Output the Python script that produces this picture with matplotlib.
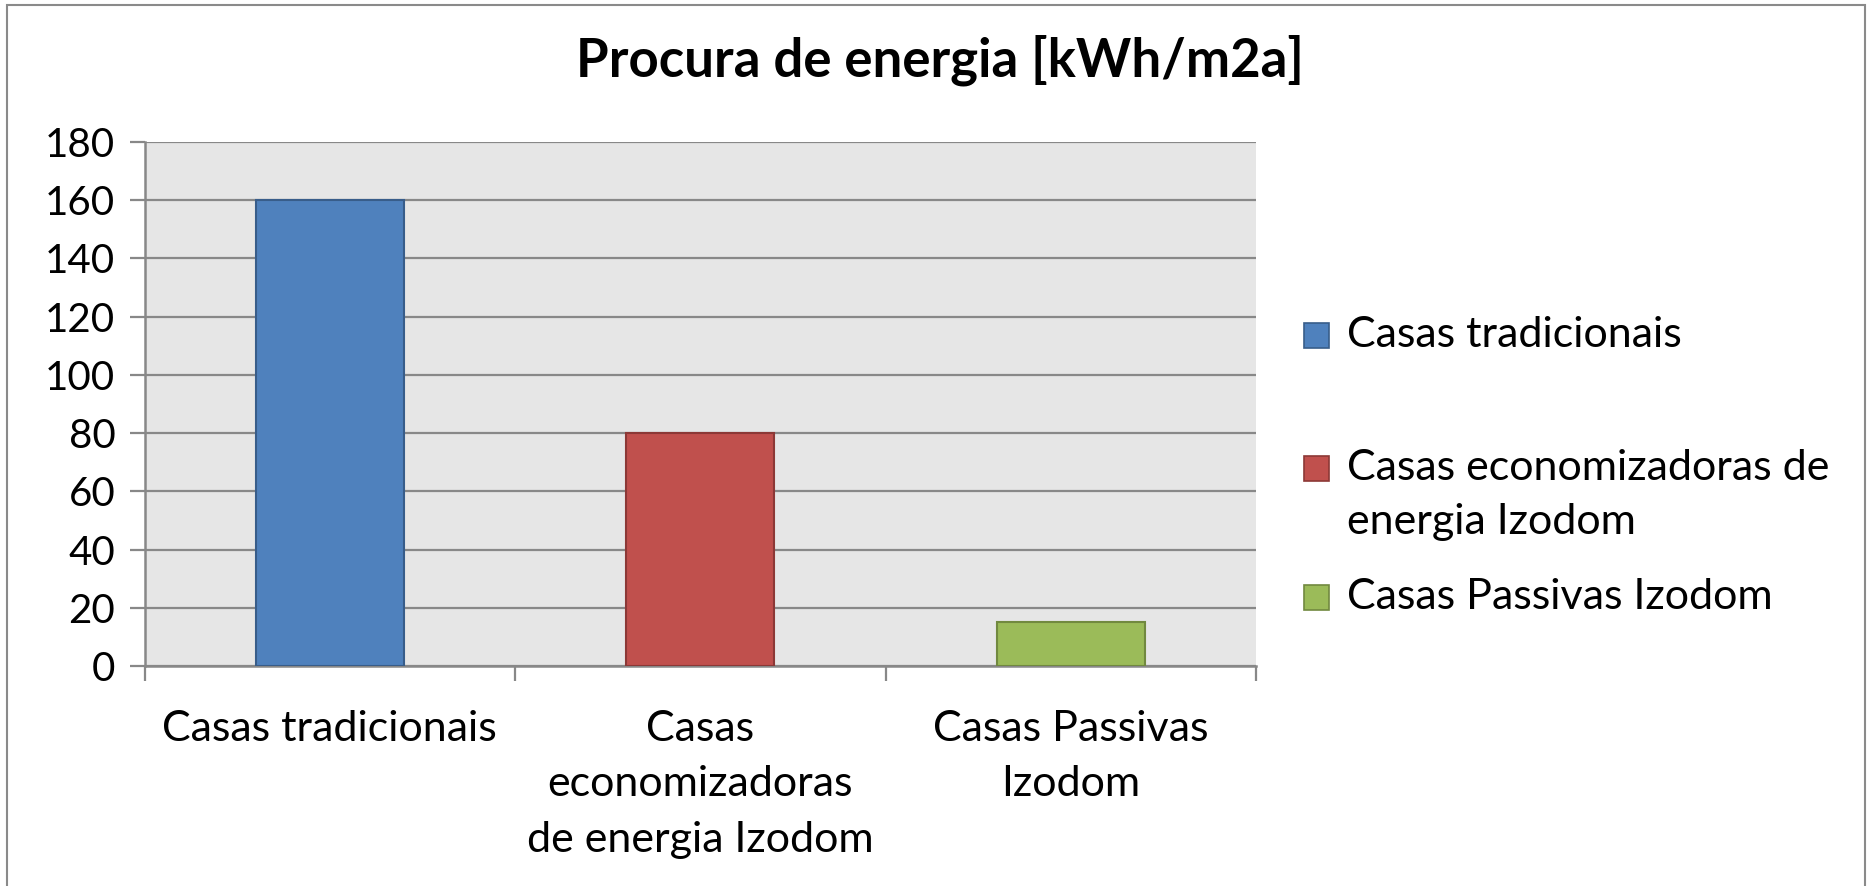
import matplotlib
matplotlib.use("Agg")
import matplotlib.pyplot as plt
from matplotlib.patches import Rectangle

# dados do grafico
categorias = ["Casas tradicionais", "Casas\neconomizadoras\nde energia Izodom", "Casas Passivas\nIzodom"]
valores = [160, 80, 15]
legenda = ["Casas tradicionais", "Casas economizadoras de\nenergia Izodom", "Casas Passivas Izodom"]
cores = ["#4f81bd", "#c0504d", "#9bbb59"]
bordas = ["#385d8a", "#8c3836", "#71893f"]
yticks = [0, 20, 40, 60, 80, 100, 120, 140, 160, 180]
titulo = "Procura de energia [kWh/m2a]"

plt.rcParams["font.family"] = ["Lato", "DejaVu Sans"]

W, H = 1872, 886
fig = plt.figure(figsize=(W / 100, H / 100), dpi=100)
ax = fig.add_axes([144.5 / W, 1 - 666 / H, (1256 - 144.5) / W, (666 - 142) / H])
ax.set_facecolor("#e6e6e6")

x = list(range(len(valores)))
ax.bar(x, valores, width=0.4, color=cores, edgecolor=bordas, linewidth=1.5, zorder=3)

ax.set_xlim(-0.5, len(valores) - 0.5)
ax.set_ylim(0, 180)
ax.set_yticks(yticks)
ax.yaxis.grid(True, color="#888888", linewidth=1.6, zorder=1)
ax.set_axisbelow(True)

ax.set_xticks(x)
ax.set_xticklabels(categorias, fontsize=31, linespacing=1.55)
ax.set_xticks([i - 0.5 for i in range(len(valores) + 1)], minor=True)
ax.tick_params(axis="x", which="major", length=0, pad=32)
ax.tick_params(axis="x", which="minor", length=11, width=1.6, color="#888888")
ax.tick_params(axis="y", length=11, width=1.6, color="#888888", pad=10, labelsize=29)

for s in ["top", "right"]:
    ax.spines[s].set_visible(False)
for s in ["left", "bottom"]:
    ax.spines[s].set_color("#888888")
    ax.spines[s].set_linewidth(1.8)

fig.text(940 / W, 1 - 60 / H, titulo, ha="center", va="center", fontsize=38, fontweight="bold")

# legenda desenhada a mao (marcador alinhado com a primeira linha)
leg_y = [335, 468, 597]
for lab, c, b, yy in zip(legenda, cores, bordas, leg_y):
    fig.add_artist(Rectangle(((1304) / W, 1 - (yy + 12.5) / H), 25 / W, 25 / H,
                             facecolor=c, edgecolor=b, linewidth=1.2, transform=fig.transFigure))
    for k, linha in enumerate(lab.split("\n")):
        fig.text(1347 / W, 1 - (yy + 54 * k) / H, linha, ha="left", va="center", fontsize=31)

# moldura do grafico
fig.add_artist(Rectangle((7 / W, -0.05), (1865 - 7) / W, 1 - 5 / H + 0.05, fill=False,
                         edgecolor="#8a8a8a", linewidth=1.5, transform=fig.transFigure))

fig.savefig("out.png", dpi=100)
